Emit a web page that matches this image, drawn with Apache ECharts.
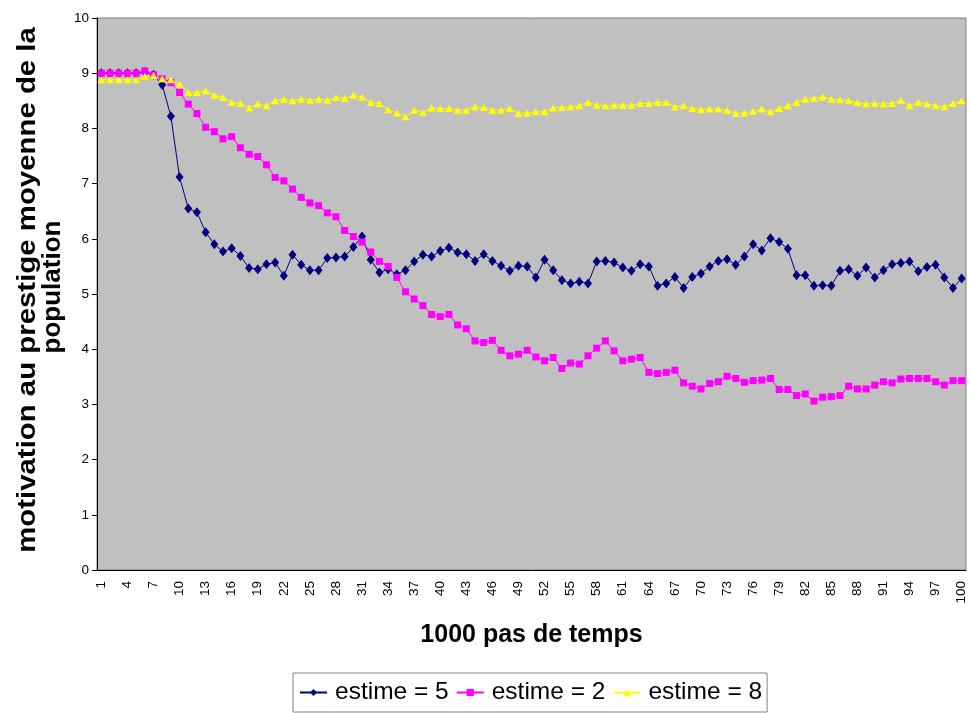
<!DOCTYPE html>
<html><head><meta charset="utf-8">
<script src="https://cdn.jsdelivr.net/npm/echarts@6/dist/echarts.min.js"></script>
<style>html,body{margin:0;padding:0;background:#fff}#c{width:970px;height:713px}</style>
</head><body><div id="c"></div>
<script>
const categories = Array.from({length:100},(_,i)=>String(i+1));
const yTicks = [0,1,2,3,4,5,6,7,8,9,10];
const seriesNames = ['estime = 5','estime = 2','estime = 8'];
const xTitle = '1000 pas de temps';
const yTitleLines = ['motivation au prestige moyenne de la','population'];
const estime5 = [9.0,9.0,9.0,9.0,9.0,9.02,8.97,8.79,8.22,7.12,
6.55,6.48,6.12,5.9,5.77,5.83,5.69,5.47,5.45,5.54,
5.57,5.33,5.71,5.53,5.43,5.43,5.65,5.66,5.68,5.85,
6.04,5.62,5.39,5.45,5.36,5.43,5.59,5.71,5.68,5.78,
5.84,5.75,5.72,5.6,5.72,5.6,5.51,5.42,5.51,5.5,
5.3,5.62,5.43,5.25,5.19,5.22,5.19,5.59,5.6,5.57,
5.48,5.42,5.54,5.5,5.15,5.19,5.31,5.11,5.31,5.37,
5.5,5.6,5.63,5.53,5.68,5.9,5.79,6.01,5.94,5.82,
5.34,5.34,5.15,5.16,5.15,5.42,5.45,5.33,5.48,5.3,
5.43,5.54,5.56,5.59,5.41,5.49,5.53,5.3,5.11,5.28];
const estime2 = [9.0,9.0,9.0,9.0,9.0,9.04,8.97,8.9,8.83,8.65,
8.44,8.27,8.02,7.94,7.81,7.85,7.65,7.53,7.49,7.34,
7.11,7.05,6.9,6.75,6.65,6.6,6.47,6.4,6.15,6.04,
5.94,5.76,5.59,5.5,5.3,5.04,4.91,4.79,4.63,4.59,
4.63,4.44,4.37,4.15,4.12,4.16,3.98,3.88,3.91,3.98,
3.86,3.79,3.85,3.65,3.75,3.73,3.88,4.02,4.15,3.97,
3.79,3.82,3.85,3.58,3.56,3.58,3.62,3.39,3.33,3.28,
3.38,3.41,3.51,3.47,3.4,3.43,3.44,3.47,3.27,3.27,
3.16,3.19,3.06,3.13,3.14,3.16,3.33,3.28,3.28,3.35,
3.41,3.39,3.46,3.47,3.47,3.47,3.41,3.35,3.43,3.43];
const estime8 = [8.88,8.88,8.88,8.88,8.88,8.94,8.96,8.9,8.88,8.8,
8.65,8.65,8.68,8.6,8.56,8.47,8.45,8.37,8.44,8.41,
8.5,8.53,8.5,8.53,8.51,8.53,8.51,8.56,8.54,8.6,
8.57,8.47,8.45,8.34,8.28,8.21,8.33,8.29,8.37,8.36,
8.36,8.33,8.33,8.39,8.38,8.33,8.33,8.36,8.27,8.28,
8.3,8.3,8.37,8.38,8.39,8.41,8.47,8.42,8.41,8.42,
8.42,8.42,8.45,8.45,8.47,8.47,8.39,8.41,8.36,8.34,
8.35,8.35,8.33,8.27,8.28,8.31,8.35,8.3,8.36,8.41,
8.47,8.53,8.54,8.57,8.53,8.52,8.5,8.47,8.44,8.45,
8.44,8.45,8.51,8.41,8.47,8.44,8.41,8.39,8.45,8.5];

const chart = echarts.init(document.getElementById('c'), null, {renderer:'canvas'});
const FONT = 'Liberation Sans, Arial, sans-serif';
chart.setOption({
  animation:false,
  backgroundColor:'#ffffff',
  textStyle:{fontFamily:FONT},
  grid:{left:97,right:4,top:18,bottom:143,show:true,backgroundColor:'#C0C0C0',borderColor:'#808080',borderWidth:1,
        containLabel:false,outerBoundsMode:'none'},
  graphic:[
    {type:'text',x:28,y:290,rotation:Math.PI/2,scaleX:1.13,
     style:{text:yTitleLines[0],font:'bold 26px '+FONT,fill:'#000',align:'center',verticalAlign:'middle'}},
    {type:'text',x:53,y:287,rotation:Math.PI/2,
     style:{text:yTitleLines[1],font:'bold 26px '+FONT,fill:'#000',align:'center',verticalAlign:'middle'}}
  ],
  legend:{
    top:673,left:293,
    data:seriesNames,
    borderColor:'#808080',borderWidth:1,
    padding:[7,5,7,6],
    itemGap:7,itemWidth:27,itemHeight:9,
    textStyle:{fontSize:24.5,color:'#000',fontFamily:FONT,padding:[0,0,0,3]}
  },
  xAxis:{
    type:'category',data:categories,boundaryGap:true,
    name:xTitle,nameLocation:'middle',nameGap:53,
    nameTextStyle:{fontSize:25,fontWeight:'bold',color:'#000',fontFamily:FONT},
    axisLine:{lineStyle:{color:'#000',width:1}},
    axisTick:{interval:0,length:4,lineStyle:{color:'#000'}},
    axisLabel:{interval:2,rotate:90,fontSize:13.5,color:'#000',margin:11,fontFamily:FONT},
    splitLine:{show:false}
  },
  yAxis:{
    type:'value',min:yTicks[0],max:yTicks[yTicks.length-1],interval:1,
    axisLine:{show:true,lineStyle:{color:'#000',width:1}},
    axisTick:{show:true,length:5,lineStyle:{color:'#000'}},
    axisLabel:{fontSize:13.5,color:'#000',margin:8,fontFamily:FONT},
    splitLine:{show:false}
  },
  series:[
    {name:seriesNames[0],type:'line',data:estime5,symbol:'diamond',symbolSize:[8,10],showAllSymbol:true,
     lineStyle:{color:'#000080',width:1},itemStyle:{color:'#000080'}},
    {name:seriesNames[1],type:'line',data:estime2,symbol:'rect',symbolSize:7,showAllSymbol:true,
     lineStyle:{color:'#FF00FF',width:1},itemStyle:{color:'#FF00FF'}},
    {name:seriesNames[2],type:'line',data:estime8,symbol:'triangle',symbolSize:[8,7],showAllSymbol:true,
     lineStyle:{color:'#FFFF00',width:1},itemStyle:{color:'#FFFF00'}}
  ]
});
</script></body></html>
